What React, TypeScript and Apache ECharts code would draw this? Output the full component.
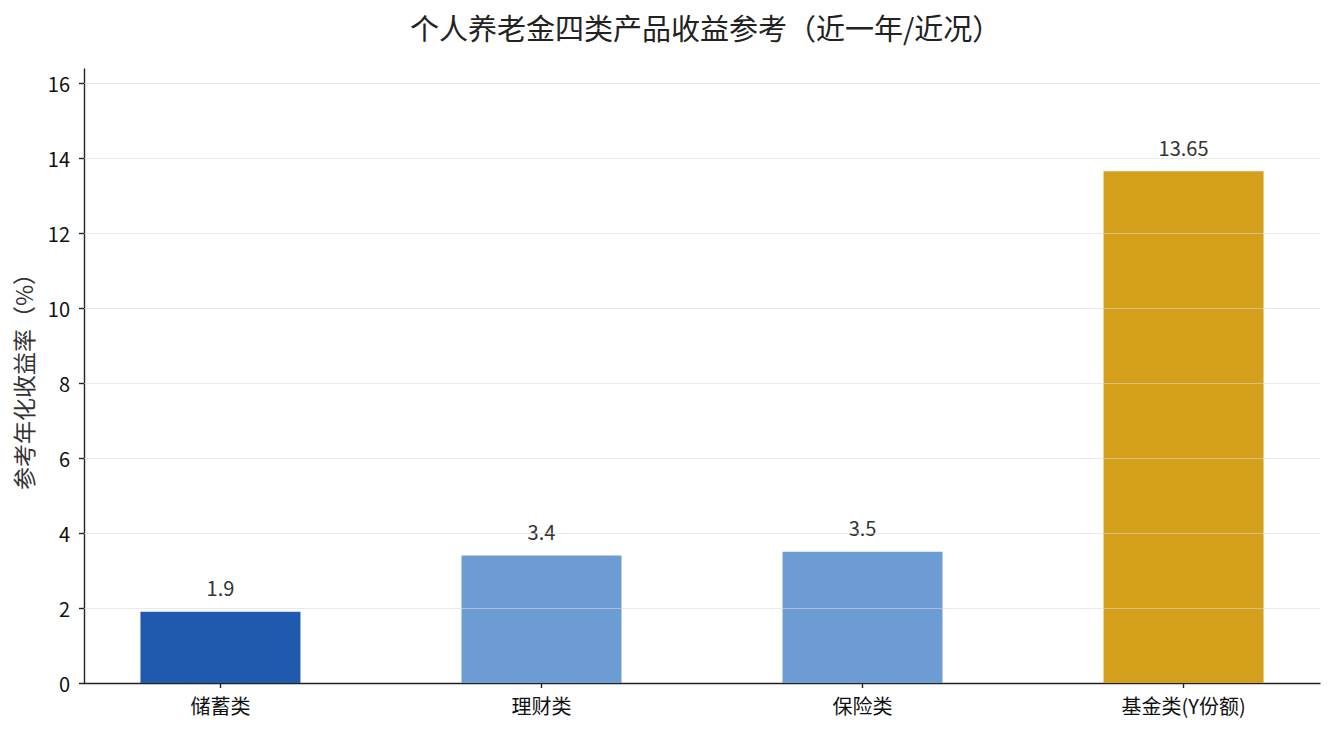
import { useEffect, useRef } from "react";
import * as echarts from "echarts";

const categories = ["储蓄类", "理财类", "保险类", "基金类(Y份额)"];
const returns = [1.9, 3.4, 3.5, 13.65];
const barColors = ["#1f5aae", "#6d9cd4", "#6d9cd4", "#d4a01b"];
const yTicks = [0, 2, 4, 6, 8, 10, 12, 14, 16];

const FONT = "'Noto Sans CJK SC', 'Noto Sans', sans-serif";

export default function App() {
  const chartRef = useRef<HTMLDivElement>(null);

  useEffect(() => {
    if (!chartRef.current) return;
    const chart = echarts.init(chartRef.current, undefined, { renderer: "svg" });

    const xIdx = categories.map((_, i) => i);
    const yMax = Math.max(...returns) * 1.2;

    chart.setOption({
      animation: false,
      textStyle: { fontFamily: FONT },
      title: {
        text: "个人养老金四类产品收益参考（近一年/近况）",
        left: 405,
        top: 7,
        textStyle: { fontSize: 29, fontWeight: "normal", color: "#222", fontFamily: FONT },
      },
      grid: { left: 84, right: 14, top: 69, bottom: 52, containLabel: false },
      xAxis: {
        type: "value",
        min: -0.425,
        max: categories.length - 1 + 0.425,
        axisLine: { show: true, onZero: false, lineStyle: { color: "#222", width: 1.4 } },
        axisTick: { show: true, length: 5, customValues: xIdx, lineStyle: { color: "#222", width: 1.4 } },
        axisLabel: {
          customValues: xIdx,
          formatter: (v: number) => categories[Math.round(v)] ?? "",
          fontSize: 20,
          color: "#111",
          margin: 12,
          fontFamily: FONT,
        },
        splitLine: { show: false },
      },
      yAxis: {
        type: "value",
        min: 0,
        max: yMax,
        name: "参考年化收益率（%）",
        nameLocation: "middle",
        nameRotate: 90,
        nameGap: 50,
        nameTextStyle: { fontSize: 23, color: "#333", fontFamily: FONT },
        axisLine: { show: true, onZero: false, lineStyle: { color: "#222", width: 1.4 } },
        axisTick: { show: true, length: 5, customValues: yTicks, lineStyle: { color: "#222", width: 1.4 } },
        axisLabel: { customValues: yTicks, fontSize: 20, color: "#111", margin: 14, fontFamily: FONT },
        splitLine: { show: false },
      },
      series: [
        {
          type: "bar",
          barWidth: 160,
          data: returns.map((v, i) => ({
            value: [i, v],
            itemStyle: { color: barColors[i] },
          })),
          label: {
            show: true,
            position: "top",
            distance: 14,
            fontSize: 20,
            color: "#333",
            fontFamily: FONT,
            formatter: (p: any) => String(p.value[1]),
          },
          markLine: {
            silent: true,
            symbol: "none",
            z: 5,
            label: { show: false },
            lineStyle: { color: "#d8d8d8", type: "solid", width: 1, opacity: 0.55 },
            data: yTicks.filter((t) => t > 0).map((t) => ({ yAxis: t })),
          },
        },
      ],
    });

    return () => chart.dispose();
  }, []);

  return (
    <div
      ref={chartRef}
      style={{ position: "fixed", left: 0, top: 0, width: 1334, height: 735, background: "#fff" }}
    />
  );
}
